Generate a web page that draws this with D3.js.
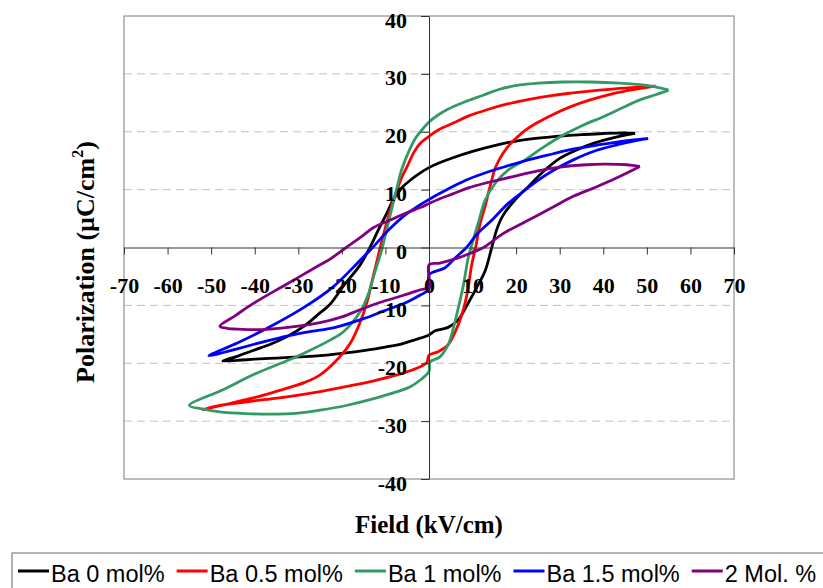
<!DOCTYPE html>
<html>
<head>
<meta charset="utf-8">
<script src="https://cdn.jsdelivr.net/npm/d3@7"></script>
<style>
  body { margin: 0; background: #fff; }
  svg { display: block; }
</style>
</head>
<body>
<div id="chart"></div>
<script>
// plot box (the grey frame in the reference)
const W = 823, H = 588;
const plot = {left: 124, right: 734, top: 16, bottom: 479};

// tick values
const xTicks = [-70, -60, -50, -40, -30, -20, -10, 0, 10, 20, 30, 40, 50, 60, 70];
const yTicks = [-40, -30, -20, -10, 0, 10, 20, 30, 40];
const gridTicks = [-30, -20, -10, 10, 20, 30];

// series names + colours
const seriesNames = ["Ba 0 mol%", "Ba 0.5 mol%", "Ba 1 mol%", "Ba 1.5 mol%", "2 Mol. %"];
const seriesColors = ["#000000", "#ff0000", "#339966", "#0000ff", "#800080"];

// loops: [field kV/cm, polarization uC/cm2]
// each starts at +Emax, runs the upper branch to -Emax and comes back on the lower one
const ba0 = [
  [47.3, 19.7], [45, 19.8], [40, 19.7], [35, 19.5], [30.8, 19.3], [25, 18.9], [20, 18.4],
  [15, 17.6], [10, 16.6], [5.5, 15.5], [2, 14.5], [0, 13.8], [-2, 12.9], [-4, 11.8],
  [-6, 10.5], [-8, 8.5], [-9.7, 5.9], [-11.4, 3.4], [-13.3, 0.4], [-15.8, -3], [-19.5, -6.5],
  [-22.7, -9.8], [-25.5, -11.6], [-28.5, -13.5], [-32.6, -15.4], [-36, -16.6], [-40.4, -17.8],
  [-44, -18.8], [-47.3, -19.6],
  [-44, -19.5], [-40, -19.3], [-35, -19.1], [-30, -18.9], [-25, -18.7], [-20, -18.3],
  [-15, -17.8], [-10, -17.2], [-6, -16.6], [-3, -15.9], [0, -15.1], [1.4, -14.4], [4.4, -13.8],
  [6.7, -12.5], [9, -9.6], [11.3, -6.4], [12.9, -4], [14.4, 0], [15.5, 3], [16.8, 5.3],
  [19.7, 8.2], [22.5, 10.3], [26.5, 13.3], [30, 15.4], [34, 16.9], [37.7, 18], [42, 18.9],
  [47.3, 19.7]
];
const ba05 = [
  [52, 27.9], [48, 27.7], [43.8, 27.5], [38, 27.1], [33, 26.7], [28.5, 26.3], [23, 25.6],
  [18, 24.8], [13.3, 23.8], [9, 22.7], [5.6, 21.5], [2.1, 20.3], [0, 19.2], [-2, 18],
  [-3.5, 16.4], [-5, 14], [-6.3, 12], [-7.4, 9.8], [-9, 6.2], [-10.3, 2.6], [-11.2, 0],
  [-12.8, -5], [-14.3, -9.6], [-15.8, -12.9], [-18.1, -16.6], [-20.6, -19], [-25, -22],
  [-28.5, -23.3], [-32.6, -24.3], [-36.5, -25.2], [-40.4, -26], [-46, -27], [-51.9, -28],
  [-48, -27.3], [-44, -26.9], [-38, -26.3], [-32.6, -25.8], [-25, -24.9], [-17.4, -23.8],
  [-12, -22.9], [-6, -21.7], [-2, -20.6], [-0.5, -19.9], [0, -18.6], [2.1, -18], [4.4, -16.8],
  [6, -14.6], [7.5, -11.7], [8.7, -8.2], [9.8, -3], [10.7, 0], [11.7, 4], [12.9, 7.2],
  [14, 10.5], [15.3, 13.9], [17, 16.3], [18.8, 18], [21.5, 19.9], [24.7, 21.5], [28.5, 23],
  [32.4, 24.3], [37, 25.5], [42.3, 26.6], [47, 27.3], [52, 27.9]
];
const ba1 = [
  [55, 27.2], [50, 28], [43.8, 28.4], [37, 28.6], [30.8, 28.6], [25, 28.4], [20.9, 28.1],
  [16, 27.3], [12.4, 26.3], [8, 25.1], [4.1, 23.8], [2.1, 22.9], [0, 21.7], [-1.3, 20.6],
  [-3, 19], [-4.4, 17], [-6.3, 13.4], [-7.4, 10.2], [-9, 5.3], [-10.5, 0.6], [-10.9, -0.6],
  [-12.4, -4.2], [-14, -8.2], [-15.8, -11.1], [-19.7, -14.6], [-22.7, -16], [-28.8, -18.3],
  [-34, -20], [-40.4, -22], [-47, -24.5], [-55, -27.3],
  [-52, -27.9], [-48, -28.4], [-42, -28.7], [-36.5, -28.8], [-30, -28.6], [-25, -28.1],
  [-19, -27.3], [-13.5, -26.3], [-9, -25.3], [-4.4, -24.1], [-2, -22.9], [0, -21.4],
  [0.2, -19.8], [2.5, -18.9], [4.4, -16.8], [5.6, -13.9], [6.7, -10.5], [7.9, -6.5],
  [9, -1.8], [9.8, 0.4], [11.3, 4.2], [12.9, 8.2], [15.2, 11.1], [18.2, 13.4], [22, 15.1],
  [26, 17.2], [30, 19.1], [35, 21], [40, 22.6], [44, 24], [48.4, 25.5], [52, 26.4], [55, 27.2]
];
const ba15 = [
  [50.3, 18.8], [47, 18.6], [43.8, 18.3], [38, 17.6], [33, 17], [28.5, 16.2], [23, 15.2],
  [18, 14.1], [13.3, 13], [9, 11.8], [5.6, 10.6], [2.1, 9.2], [0, 8.3], [-2, 7.4],
  [-6, 5.3], [-9.3, 3], [-12.8, 0.1], [-15.8, -2.2], [-22, -6.8], [-28.8, -10.4],
  [-36.5, -13.7], [-44, -16.5], [-50.5, -18.7],
  [-47, -18.1], [-44, -17.5], [-38, -16.3], [-32.6, -15.3], [-27, -14.5], [-22, -13.9],
  [-15, -12.3], [-10.5, -11], [-5, -9.4], [-2, -8.2], [0, -7.2], [0, -4.7], [3.7, -3.5],
  [6, -1.8], [8.6, 0], [11, 2.3], [14.4, 4.7], [18, 7.5], [22, 9.9], [25, 11.6],
  [28.5, 13.3], [33, 15.1], [38.5, 16.8], [44, 17.9], [48.4, 18.6], [50.3, 18.8]
];
const ba2 = [
  [48.4, 14], [45.4, 14.3], [40, 14.4], [36.2, 14.3], [30, 13.9], [24.7, 13.2], [19, 12.2],
  [13.3, 11.2], [9, 10.3], [5.6, 9.3], [2.1, 8.3], [0, 7.6], [-2, 6.9], [-5.1, 6],
  [-9, 4.7], [-12.8, 3.4], [-15.8, 1.7], [-19, 0], [-22.7, -2], [-25.5, -3.2],
  [-32.6, -6.3], [-40.4, -9.7], [-44.5, -11.8], [-48, -13.6],
  [-46, -14], [-44, -14.1], [-40, -14.2], [-36.5, -14.1], [-30, -13.6], [-25, -13],
  [-20, -12], [-16, -10.8], [-11.3, -9.5], [-6, -8.3], [-2, -7.3], [0, -6.8], [0, -3],
  [2.5, -2.7], [6.7, -1.8], [9.5, -1], [12.5, 0], [17, 2.4], [22, 4.4], [28.5, 7],
  [33, 8.8], [38.5, 10.5], [43, 12], [48.4, 14]
];
const allSeries = [ba0, ba05, ba1, ba15, ba2];

const svg = d3.select("#chart")
    .append("svg")
    .attr("width", W)
    .attr("height", H);

const x = d3.scaleLinear().domain([-70, 70]).range([plot.left, plot.right]);
const y = d3.scaleLinear().domain([-40, 40]).range([plot.bottom, plot.top]);

const serif = "'Liberation Serif', 'Times New Roman', serif";
// plain hyphen for negatives, like the original
const tickFmt = d => String(d);

// dashed gridlines
svg.append("g")
    .selectAll("line")
    .data(gridTicks)
    .enter()
    .append("line")
    .attr("x1", plot.left)
    .attr("x2", plot.right)
    .attr("y1", d => y(d))
    .attr("y2", d => y(d))
    .attr("stroke", "#c0c0c0")
    .attr("stroke-width", 1)
    .attr("stroke-dasharray", "8,5");

// plot frame
svg.append("rect")
    .attr("x", plot.left)
    .attr("y", plot.top)
    .attr("width", plot.right - plot.left)
    .attr("height", plot.bottom - plot.top)
    .attr("fill", "none")
    .attr("stroke", "#909090")
    .attr("stroke-width", 1.2);

// loops
const line = d3.line()
    .x(d => x(d[0]))
    .y(d => y(d[1]))
    .curve(d3.curveCatmullRom.alpha(0.5));

svg.append("g")
    .selectAll("path")
    .data(allSeries)
    .enter()
    .append("path")
    .attr("d", line)
    .attr("fill", "none")
    .attr("stroke", (d, i) => seriesColors[i])
    .attr("stroke-width", 2.8)
    .attr("stroke-linejoin", "round");

// X axis through P = 0
const xAxisG = svg.append("g")
    .attr("transform", "translate(0," + y(0) + ")")
    .call(d3.axisBottom(x).tickValues(xTicks).tickSize(7).tickSizeOuter(0).tickFormat(tickFmt));
xAxisG.selectAll("text")
    .attr("y", 30)
    .attr("dy", "0.71em")
    .attr("font-family", serif)
    .attr("font-weight", "bold")
    .attr("font-size", 22)
    .attr("fill", "#000");

// Y axis through E = 0
const yAxisG = svg.append("g")
    .attr("transform", "translate(" + x(0) + ",0)")
    .call(d3.axisLeft(y).tickValues(yTicks).tickSize(8).tickSizeOuter(0).tickFormat(tickFmt));
yAxisG.selectAll("text")
    .attr("x", -22)
    .attr("dy", "0.5em")
    .attr("font-family", serif)
    .attr("font-weight", "bold")
    .attr("font-size", 22)
    .attr("fill", "#000");

svg.selectAll(".domain, .tick line").attr("stroke", "#333");

// axis titles
svg.append("text")
    .attr("x", 429)
    .attr("y", 533)
    .attr("text-anchor", "middle")
    .attr("font-family", serif)
    .attr("font-weight", "bold")
    .attr("font-size", 25)
    .text("Field (kV/cm)");

const yTitle = svg.append("text")
    .attr("transform", "translate(94,262) rotate(-90)")
    .attr("text-anchor", "middle")
    .attr("font-family", serif)
    .attr("font-weight", "bold")
    .attr("font-size", 26);
yTitle.append("tspan").text("Polarization (\u00b5C/cm");
yTitle.append("tspan").attr("font-size", 16).attr("dy", -11).text("2");
yTitle.append("tspan").attr("dy", 11).text(")");

// legend
svg.append("rect")
    .attr("x", 12)
    .attr("y", 553)
    .attr("width", 840)
    .attr("height", 60)
    .attr("fill", "#fff")
    .attr("stroke", "#808080")
    .attr("stroke-width", 1.2);

let lx = 18;
seriesNames.forEach(function(name, i) {
    svg.append("line")
        .attr("x1", lx)
        .attr("x2", lx + 31)
        .attr("y1", 571)
        .attr("y2", 571)
        .attr("stroke", seriesColors[i])
        .attr("stroke-width", 3);
    const t = svg.append("text")
        .attr("x", lx + 33)
        .attr("y", 582)
        .attr("font-family", "'Liberation Sans', Arial, sans-serif")
        .attr("font-size", 23.5)
        .attr("fill", "#000")
        .text(name);
    lx += 33 + t.node().getComputedTextLength() + 12;
});
</script>
</body>
</html>
